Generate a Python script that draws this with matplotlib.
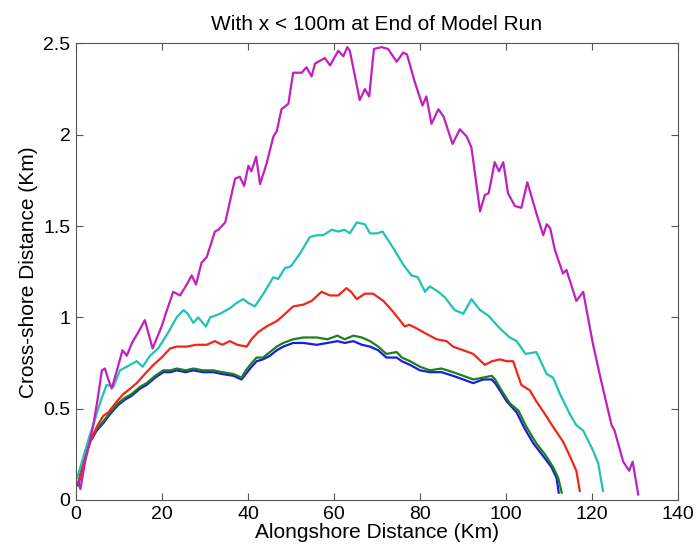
import numpy as np
import matplotlib
matplotlib.use('Agg')
import matplotlib.pyplot as plt

# shoreline position at end of model run, one line per case
x_blue = [0.5, 1.2, 2.1, 3.3, 4.8, 6.3, 7.9, 9.8, 11.4, 12.9, 14.9, 16.4, 18.4, 20.3, 22.0, 23.4, 25.5, 27.3, 29.5, 31.9,
          34.0, 36.6, 38.5, 39.5, 40.5, 42.0, 43.5, 45.1, 46.7, 48.2, 50.5, 52.9, 56.0, 58.5, 60.8, 62.5, 64.5, 66.5, 68.4,
          70.3, 72.2, 74.6, 75.8, 77.7, 80.0, 82.3, 85.0, 87.7, 90.1, 92.4, 94.7, 96.7, 97.5, 98.6, 100.2, 102.5, 104.4,
          106.4, 108.7, 110.6, 111.8, 112.3]
y_blue = [0.08, 0.15, 0.23, 0.32, 0.38, 0.42, 0.47, 0.52, 0.55, 0.57, 0.61, 0.63, 0.67, 0.70, 0.70, 0.71, 0.70, 0.71, 0.70,
          0.70, 0.69, 0.68, 0.66, 0.69, 0.72, 0.76, 0.77, 0.79, 0.82, 0.84, 0.86, 0.86, 0.85, 0.86, 0.87, 0.86, 0.87, 0.85,
          0.84, 0.82, 0.78, 0.78, 0.76, 0.74, 0.71, 0.70, 0.70, 0.68, 0.66, 0.64, 0.66, 0.66, 0.64, 0.60, 0.54, 0.48, 0.39,
          0.31, 0.24, 0.18, 0.12, 0.04]

x_green = [0.5, 1.2, 2.1, 3.3, 4.8, 6.3, 7.9, 9.8, 11.4, 12.9, 14.9, 16.4, 18.4, 20.3, 22.0, 23.4, 25.5, 27.3, 29.5, 31.9,
           34.0, 36.6, 38.5, 39.5, 40.5, 42.0, 43.5, 45.1, 46.7, 48.2, 50.5, 52.9, 56.0, 58.5, 60.8, 62.5, 64.5, 66.5, 68.4,
           70.3, 72.2, 74.6, 75.8, 77.7, 80.0, 82.3, 85.0, 87.7, 90.1, 92.4, 94.7, 96.7, 97.5, 99.0, 100.9, 102.9, 104.8,
           107.1, 109.1, 111.0, 112.2, 113.0]
y_green = [0.09, 0.16, 0.24, 0.33, 0.39, 0.43, 0.48, 0.53, 0.56, 0.58, 0.62, 0.64, 0.68, 0.71, 0.71, 0.72, 0.71, 0.72, 0.71,
           0.71, 0.70, 0.69, 0.67, 0.71, 0.74, 0.78, 0.78, 0.81, 0.84, 0.86, 0.88, 0.89, 0.89, 0.88, 0.90, 0.88, 0.90, 0.89,
           0.87, 0.84, 0.80, 0.81, 0.78, 0.76, 0.73, 0.71, 0.72, 0.70, 0.68, 0.66, 0.67, 0.68, 0.66, 0.60, 0.53, 0.49, 0.40,
           0.31, 0.25, 0.18, 0.12, 0.04]

x_red = [0.5, 1.2, 2.1, 3.3, 4.8, 6.3, 7.5, 9.5, 11.0, 12.6, 14.1, 16.0, 18.0, 19.9, 21.9, 23.4, 25.7, 28.0, 30.4, 32.3,
         34.0, 35.8, 37.5, 39.7, 40.8, 42.4, 44.3, 46.7, 48.2, 50.5, 52.9, 54.8, 57.1, 59.1, 61.0, 62.9, 64.0, 65.3, 67.2,
         69.1, 71.5, 73.8, 76.5, 77.5, 79.2, 81.5, 83.9, 86.2, 87.7, 90.1, 92.4, 95.1, 96.8, 98.6, 100.2, 101.7, 103.6,
         105.6, 107.1, 109.1, 111.0, 113.3, 114.9, 116.4, 117.2]
y_red = [0.09, 0.15, 0.24, 0.32, 0.40, 0.46, 0.48, 0.54, 0.58, 0.61, 0.64, 0.69, 0.74, 0.78, 0.83, 0.84, 0.84, 0.85, 0.85,
         0.87, 0.85, 0.87, 0.85, 0.84, 0.88, 0.92, 0.95, 0.98, 1.01, 1.06, 1.07, 1.09, 1.14, 1.12, 1.12, 1.16, 1.14, 1.10,
         1.13, 1.13, 1.09, 1.03, 0.95, 0.96, 0.94, 0.91, 0.88, 0.87, 0.84, 0.82, 0.80, 0.74, 0.76, 0.77, 0.76, 0.76, 0.63,
         0.60, 0.54, 0.47, 0.40, 0.32, 0.24, 0.16, 0.05]

x_cyan = [0.2, 1.0, 2.1, 3.0, 4.0, 5.0, 6.0, 7.1, 8.7, 10.2, 11.8, 14.1, 15.5, 17.2, 19.1, 21.5, 23.4, 25.0, 26.0, 27.3,
          28.4, 30.2, 31.2, 33.5, 35.8, 37.4, 38.9, 40.0, 41.6, 43.6, 45.9, 47.0, 48.6, 50.0, 52.1, 54.4, 56.0, 57.5, 59.5,
          61.0, 62.5, 63.7, 65.3, 67.2, 68.4, 70.0, 71.3, 73.8, 76.1, 78.0, 79.5, 81.2, 82.3, 84.3, 85.8, 88.1, 90.1, 92.0,
          94.0, 95.9, 98.6, 100.9, 102.5, 104.6, 107.1, 109.5, 111.0, 112.6, 114.9, 116.4, 118.0, 120.3, 121.5, 122.6]
y_cyan = [0.12, 0.18, 0.27, 0.34, 0.41, 0.49, 0.56, 0.63, 0.62, 0.71, 0.73, 0.76, 0.73, 0.79, 0.83, 0.92, 1.00, 1.04, 1.02,
          0.97, 1.00, 0.95, 1.00, 1.02, 1.05, 1.08, 1.10, 1.08, 1.06, 1.13, 1.22, 1.21, 1.27, 1.28, 1.35, 1.44, 1.45, 1.45,
          1.48, 1.47, 1.48, 1.46, 1.52, 1.51, 1.46, 1.46, 1.47, 1.38, 1.29, 1.23, 1.22, 1.14, 1.17, 1.14, 1.11, 1.04, 1.02,
          1.10, 1.04, 1.01, 0.94, 0.89, 0.87, 0.80, 0.81, 0.69, 0.67, 0.58, 0.47, 0.41, 0.38, 0.27, 0.20, 0.05]

x_mag = [0.5, 1.0, 2.1, 3.0, 4.0, 5.0, 6.0, 6.7, 7.5, 8.3, 9.5, 10.8, 11.8, 13.0, 14.5, 16.0, 17.8, 19.9, 21.0, 22.6, 24.2,
         25.5, 26.9, 27.9, 29.2, 30.4, 32.3, 33.1, 34.7, 37.0, 38.1, 39.1, 40.1, 40.8, 41.9, 42.8, 44.3, 45.9, 46.7, 47.8,
         49.4, 50.5, 52.5, 53.6, 54.8, 55.6, 57.1, 57.9, 59.1, 61.0, 62.2, 63.1, 63.7, 66.0, 67.2, 68.2, 69.3, 71.1, 72.6,
         74.6, 76.1, 77.0, 78.8, 80.6, 81.5, 82.7, 84.3, 85.5, 87.6, 89.3, 90.9, 92.0, 94.0, 95.1, 96.0, 97.4, 98.4, 99.4,
         100.5, 102.1, 103.6, 105.0, 107.1, 108.7, 109.5, 110.3, 111.4, 113.3, 114.1, 116.4, 118.0, 120.3, 122.2, 124.6,
         125.3, 127.3, 128.7, 129.5, 130.8]
y_mag = [0.10, 0.06, 0.21, 0.30, 0.41, 0.55, 0.71, 0.72, 0.66, 0.61, 0.71, 0.82, 0.79, 0.86, 0.92, 0.985, 0.83, 0.95, 1.03,
         1.14, 1.12, 1.17, 1.23, 1.18, 1.30, 1.33, 1.47, 1.48, 1.52, 1.76, 1.77, 1.72, 1.83, 1.80, 1.88, 1.73, 1.84, 1.99,
         2.02, 2.14, 2.17, 2.34, 2.34, 2.37, 2.32, 2.39, 2.41, 2.42, 2.38, 2.46, 2.43, 2.48, 2.46, 2.19, 2.25, 2.21, 2.47,
         2.48, 2.47, 2.40, 2.45, 2.44, 2.29, 2.16, 2.21, 2.06, 2.14, 2.10, 1.95, 2.03, 1.99, 1.93, 1.58, 1.67, 1.68, 1.85,
         1.80, 1.85, 1.68, 1.61, 1.60, 1.74, 1.57, 1.45, 1.51, 1.49, 1.37, 1.24, 1.26, 1.09, 1.14, 0.85, 0.65, 0.41, 0.38,
         0.21, 0.16, 0.21, 0.03]

xticks = [0, 20, 40, 60, 80, 100, 120, 140]
yticks = [0, 0.5, 1, 1.5, 2, 2.5]
yticklabels = ['0', '0.5', '1', '1.5', '2', '2.5']

plt.rcParams['font.family'] = ['Liberation Sans', 'DejaVu Sans']

fig = plt.figure(figsize=(6.98, 5.54), dpi=100)
ax = fig.add_axes([0.109, 0.0975, 0.862, 0.824])

# matlab default line order b, g, r, c, m
ax.plot(x_blue, y_blue, color='#1a1ae6', lw=1.6)
ax.plot(x_green, y_green, color='#1a801a', lw=1.6)
ax.plot(x_red, y_red, color='#f0261a', lw=1.6)
ax.plot(x_cyan, y_cyan, color='#1ec4b0', lw=1.6)
ax.plot(x_mag, y_mag, color='#c020c0', lw=1.6)

ax.set_xlim(0, 140)
ax.set_ylim(0, 2.5)
ax.set_xticks(xticks)
ax.set_yticks(yticks)
ax.set_yticklabels(yticklabels)
ax.tick_params(direction='in', top=True, right=True, length=5, width=0.8, color='#555555', labelsize=14, pad=4)
for s in ax.spines.values():
    s.set_color('#555555')
    s.set_linewidth(0.8)

ax.set_title('With x < 100m at End of Model Run', fontsize=15, pad=10)
ax.set_xlabel('Alongshore Distance (Km)', fontsize=15, labelpad=0)
ax.set_ylabel('Cross-shore Distance (Km)', fontsize=15, labelpad=4)

fig.savefig('out.png', dpi=100)
